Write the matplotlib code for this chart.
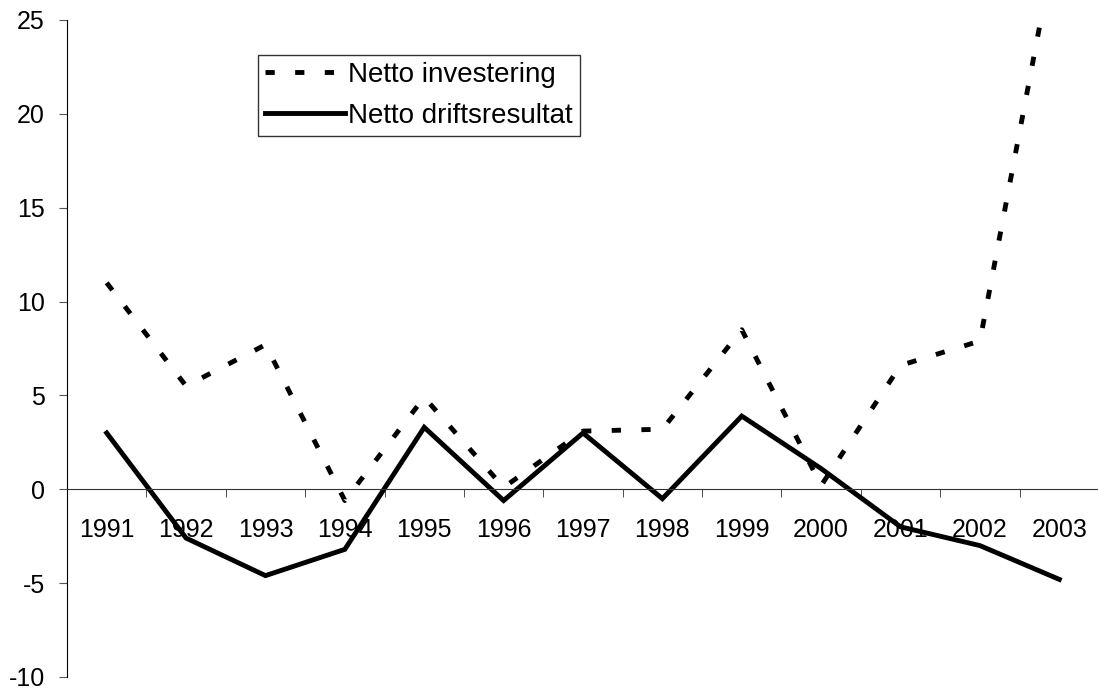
import matplotlib
matplotlib.use("Agg")
import matplotlib.pyplot as plt
from matplotlib.ticker import FixedLocator

plt.rcParams['font.family'] = ['Liberation Sans', 'DejaVu Sans']

years = ['1991', '1992', '1993', '1994', '1995', '1996', '1997',
         '1998', '1999', '2000', '2001', '2002', '2003']
investering = [11.0, 5.5, 7.7, -0.6, 4.9, 0.1, 3.1, 3.2, 8.5, 0.2, 6.6, 7.9, 30.2]
driftsresultat = [3.0, -2.6, -4.6, -3.2, 3.3, -0.6, 3.0, -0.5, 3.9, 1.1, -2.0, -3.0, -4.8]
yticks = [-10, -5, 0, 5, 10, 15, 20, 25]

fig = plt.figure(figsize=(10.98, 6.90), dpi=100)
ax = fig.add_axes([67/1098, 13/690, 1032/1098, 657/690])

x = list(range(len(years)))
ax.plot(x, investering, color='black', lw=3.5, dashes=(1.9, 4.2),
        dash_capstyle='butt', label='Netto investering')
ax.plot(x, driftsresultat, color='black', lw=3.5, solid_joinstyle='miter',
        label='Netto driftsresultat')

ax.set_xlim(-0.5, len(years) - 0.5)
ax.set_ylim(-10, 25)
ax.set_yticks(yticks)
ax.set_yticklabels([str(v) for v in yticks])

ax.set_xticks(x)
ax.set_xticklabels(years)
ax.xaxis.set_minor_locator(FixedLocator([i + 0.5 for i in range(-1, len(years))]))

for s in ['top', 'right']:
    ax.spines[s].set_visible(False)
ax.spines['bottom'].set_position(('data', 0))
ax.spines['bottom'].set_color('#333333')
ax.spines['left'].set_color('black')

ax.tick_params(axis='x', which='major', length=0, pad=21, labelsize=18)
ax.tick_params(axis='x', which='minor', length=6, direction='out', color='#333333')
ax.tick_params(axis='y', length=6, direction='out', pad=10, labelsize=18, color='#555555')

leg = ax.legend(loc='upper left', bbox_to_anchor=(0.185, 0.947), borderaxespad=0,
                fontsize=20, handlelength=2.9, handletextpad=0.1,
                labelspacing=0.55, borderpad=0.25, fancybox=False, frameon=True)
leg.get_frame().set_edgecolor('black')
leg.get_frame().set_linewidth(1.0)

fig.savefig('out.png', dpi=100)
